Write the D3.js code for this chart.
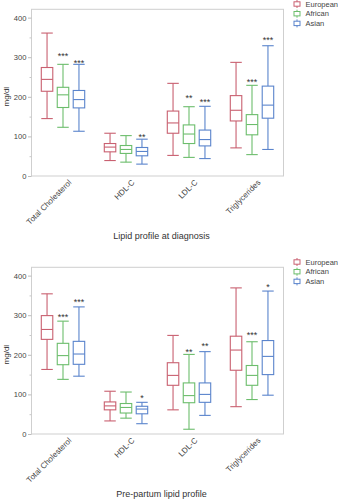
<!DOCTYPE html>
<html>
<head>
<meta charset="utf-8">
<script src="https://cdn.jsdelivr.net/npm/d3@7"></script>
<style>
  html, body { margin: 0; padding: 0; background: #fff; }
  svg { display: block; font-family: "Liberation Sans", Arial, sans-serif; }
</style>
</head>
<body>
<svg id="chart" width="338" height="500"></svg>
<script>
// ---- Data ----
const categories = ["Total Cholesterol", "HDL-C", "LDL-C", "Triglycerides"];
const groups = ["European", "African", "Asian"];
const groupColors = ["#c96070", "#6cbd6c", "#5a84cc"];
const yTicks = [0, 100, 200, 300, 400];
const yMinorTicks = [50, 150, 250, 350];

// Panel 1: Lipid profile at diagnosis  [low whisker, Q1, median, Q3, high whisker] per category, per group
const diagEuropean = [[145, 214, 244, 274, 361], [39, 61, 73, 82, 108], [52, 108, 134, 164, 234], [71, 139, 166, 203, 287]];
const diagAfrican  = [[123, 173, 205, 224, 282], [35, 57, 67, 77, 102], [47, 82, 106, 129, 175], [54, 104, 130, 155, 229]];
const diagAsian    = [[113, 172, 193, 216, 282], [30, 51, 62, 72, 93], [44, 76, 92, 116, 176], [67, 146, 179, 227, 329]];
// significance annotations: [category, group, label, value position]
const diagStars = [
  ["Total Cholesterol", "African", "***", 309], ["Total Cholesterol", "Asian", "***", 292],
  ["HDL-C", "Asian", "**", 104],
  ["LDL-C", "African", "**", 204], ["LDL-C", "Asian", "***", 193],
  ["Triglycerides", "African", "***", 242], ["Triglycerides", "Asian", "***", 349]
];

// Panel 2: Pre-partum lipid profile
const preEuropean = [[163, 239, 264, 299, 354], [33, 61, 71, 81, 108], [61, 123, 148, 180, 249], [69, 161, 212, 247, 369]];
const preAfrican  = [[138, 175, 198, 229, 285], [40, 53, 67, 77, 106], [12, 79, 97, 129, 201], [87, 123, 148, 173, 233]];
const preAsian    = [[146, 176, 202, 234, 321], [26, 51, 63, 70, 80], [47, 80, 100, 129, 208], [98, 150, 196, 236, 361]];
const preStars = [
  ["Total Cholesterol", "African", "***", 302], ["Total Cholesterol", "Asian", "***", 339],
  ["HDL-C", "Asian", "*", 97],
  ["LDL-C", "African", "**", 214], ["LDL-C", "Asian", "**", 227],
  ["Triglycerides", "African", "***", 256], ["Triglycerides", "Asian", "*", 378]
];

const panels = [
  { title: "Lipid profile at diagnosis", series: [diagEuropean, diagAfrican, diagAsian], stars: diagStars, top: 9.3, bottom: 176 },
  { title: "Pre-partum lipid profile", series: [preEuropean, preAfrican, preAsian], stars: preStars, top: 267.3, bottom: 434 }
];

// ---- Drawing ----
const svg = d3.select("#chart");
const left = 31.5, right = 283.5;
const color = d3.scaleOrdinal().domain(groups).range(groupColors);

const x0 = d3.scaleBand().domain(categories).range([left, right]).paddingInner(0.24).paddingOuter(0.12);
const x1 = d3.scaleBand().domain(groups).range([0, x0.bandwidth()]).paddingInner(0.28).paddingOuter(0.14);

panels.forEach(p => {
  const g = svg.append("g");
  const y = d3.scaleLinear().domain([0, 421]).range([p.bottom, p.top]);

  // frame
  g.append("rect")
    .attr("x", left).attr("y", p.top)
    .attr("width", right - left).attr("height", p.bottom - p.top)
    .attr("fill", "none").attr("stroke", "#cfcfcf").attr("stroke-width", 1);

  // y axis major
  const ya = g.append("g").attr("transform", `translate(${left},0)`)
    .call(d3.axisLeft(y).tickValues(yTicks).tickSize(3.5).tickPadding(1.5));
  ya.select(".domain").remove();
  ya.selectAll(".tick line").attr("stroke", "#bdbdbd");
  ya.selectAll(".tick text").attr("fill", "#444").attr("font-size", "7.6px");
  // y axis minor
  const ym = g.append("g").attr("transform", `translate(${left},0)`)
    .call(d3.axisLeft(y).tickValues(yMinorTicks).tickSize(2).tickFormat(""));
  ym.select(".domain").remove();
  ym.selectAll(".tick line").attr("stroke", "#c8c8c8");

  // x axis labels
  const xa = g.append("g").attr("transform", `translate(0,${p.bottom})`)
    .call(d3.axisBottom(x0).tickSize(0).tickPadding(0));
  xa.select(".domain").remove();
  xa.selectAll(".tick text")
    .attr("fill", "#444").attr("font-size", "8px")
    .attr("text-anchor", "end")
    .attr("dy", null).attr("y", null)
    .attr("transform", "translate(9,7) rotate(-45)");

  // y label
  g.append("text")
    .attr("transform", `translate(9,${(p.top + p.bottom) / 2 + 4}) rotate(-90)`)
    .attr("text-anchor", "middle").attr("font-size", "8px").attr("fill", "#333")
    .text("mg/dl");

  // title
  g.append("text")
    .attr("x", 161.5).attr("y", p.bottom + 63.3)
    .attr("text-anchor", "middle").attr("font-size", "9px").attr("fill", "#333")
    .text(p.title);

  // boxes
  groups.forEach((grp, gi) => {
    p.series[gi].forEach((st, ci) => {
      const cat = categories[ci];
      const bx = x0(cat) + x1(grp);
      const bw = x1.bandwidth();
      const cx = bx + bw / 2;
      const col = color(grp);
      const bg = g.append("g").attr("stroke", col).attr("stroke-width", 1.1).attr("fill", "none");
      // whiskers
      bg.append("line").attr("x1", cx).attr("x2", cx).attr("y1", y(st[0])).attr("y2", y(st[1]));
      bg.append("line").attr("x1", cx).attr("x2", cx).attr("y1", y(st[3])).attr("y2", y(st[4]));
      // caps
      bg.append("line").attr("x1", bx).attr("x2", bx + bw).attr("y1", y(st[0])).attr("y2", y(st[0]));
      bg.append("line").attr("x1", bx).attr("x2", bx + bw).attr("y1", y(st[4])).attr("y2", y(st[4]));
      // box
      bg.append("rect").attr("x", bx).attr("y", y(st[3]))
        .attr("width", bw).attr("height", y(st[1]) - y(st[3]));
      // median
      bg.append("line").attr("x1", bx).attr("x2", bx + bw).attr("y1", y(st[2])).attr("y2", y(st[2]));
    });
  });

  // significance stars
  p.stars.forEach(s => {
    const cx = x0(s[0]) + x1(s[1]) + x1.bandwidth() / 2;
    g.append("text")
      .attr("x", cx).attr("y", y(s[3]) + 5.3)
      .attr("text-anchor", "middle").attr("font-size", "9px").attr("fill", "#333")
      .text(s[2]);
  });

  // legend
  const lg = g.append("g").attr("transform", `translate(297,${p.top - 5.3})`);
  groups.forEach((grp, gi) => {
    const row = lg.append("g").attr("transform", `translate(0,${gi * 9.7})`);
    const col = color(grp);
    row.append("rect").attr("x", -3).attr("y", -2.2).attr("width", 6).attr("height", 4.4)
      .attr("fill", "none").attr("stroke", col).attr("stroke-width", 1);
    row.append("line").attr("x1", 0).attr("x2", 0).attr("y1", -4).attr("y2", -2.2).attr("stroke", col);
    row.append("line").attr("x1", 0).attr("x2", 0).attr("y1", 2.2).attr("y2", 4).attr("stroke", col);
    row.append("text").attr("x", 8.5).attr("y", 2.7)
      .attr("font-size", "7.5px").attr("fill", "#444").text(grp);
  });
});
</script>
</body>
</html>
